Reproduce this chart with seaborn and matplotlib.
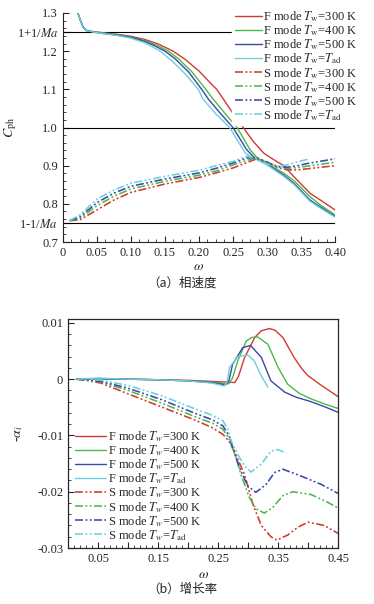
import matplotlib
matplotlib.use('Agg')
import matplotlib.pyplot as plt
from matplotlib.ticker import MultipleLocator
import seaborn as sns

# ---- panel (a): phase speed ----
om_F300_a = [0.022, 0.026, 0.03, 0.035, 0.045, 0.06, 0.08, 0.10, 0.12, 0.14, 0.162, 0.18, 0.20, 0.215, 0.226, 0.236, 0.25, 0.265, 0.28, 0.295, 0.314, 0.325, 0.339, 0.363, 0.38, 0.40]
c_F300 = [1.30, 1.28, 1.262, 1.254, 1.251, 1.248, 1.244, 1.239, 1.231, 1.219, 1.20, 1.178, 1.148, 1.12, 1.10, 1.074, 1.037, 1.0, 0.963, 0.933, 0.911, 0.90, 0.872, 0.828, 0.808, 0.784]
om_F400_a = [0.022, 0.026, 0.03, 0.035, 0.045, 0.06, 0.08, 0.10, 0.12, 0.14, 0.155, 0.17, 0.19, 0.21, 0.221, 0.24, 0.256, 0.275, 0.287, 0.30, 0.324, 0.34, 0.363, 0.38, 0.40]
c_F400 = [1.30, 1.28, 1.262, 1.254, 1.251, 1.247, 1.243, 1.237, 1.228, 1.214, 1.20, 1.18, 1.145, 1.10, 1.074, 1.033, 1.0, 0.942, 0.918, 0.905, 0.881, 0.86, 0.819, 0.795, 0.771]
om_F500_a = [0.022, 0.026, 0.03, 0.035, 0.045, 0.06, 0.08, 0.10, 0.12, 0.135, 0.15, 0.165, 0.185, 0.204, 0.214, 0.23, 0.25, 0.27, 0.282, 0.30, 0.324, 0.34, 0.363, 0.38, 0.40]
c_F500 = [1.30, 1.28, 1.262, 1.254, 1.25, 1.246, 1.242, 1.236, 1.226, 1.214, 1.20, 1.18, 1.145, 1.10, 1.074, 1.04, 1.0, 0.942, 0.92, 0.904, 0.876, 0.853, 0.81, 0.79, 0.767]
om_Fad_a = [0.022, 0.026, 0.03, 0.035, 0.045, 0.06, 0.08, 0.10, 0.12, 0.13, 0.143, 0.16, 0.18, 0.199, 0.206, 0.225, 0.245, 0.268, 0.28, 0.30, 0.324, 0.34, 0.363, 0.38, 0.40]
c_Fad = [1.30, 1.28, 1.262, 1.254, 1.25, 1.246, 1.241, 1.234, 1.222, 1.213, 1.20, 1.175, 1.14, 1.10, 1.074, 1.035, 1.0, 0.933, 0.92, 0.902, 0.873, 0.85, 0.807, 0.787, 0.765]

om_S_a = [0.01, 0.025, 0.05, 0.075, 0.10, 0.15, 0.20, 0.225, 0.25, 0.27, 0.285, 0.30, 0.315, 0.33, 0.345, 0.36, 0.38, 0.40]
c_S300 = [0.756, 0.758, 0.784, 0.81, 0.83, 0.852, 0.869, 0.881, 0.894, 0.908, 0.918, 0.91, 0.895, 0.889, 0.889, 0.892, 0.896, 0.90]
c_S400 = [0.756, 0.762, 0.795, 0.82, 0.839, 0.859, 0.875, 0.886, 0.902, 0.914, 0.92, 0.91, 0.897, 0.893, 0.895, 0.899, 0.904, 0.909]
c_S500 = [0.756, 0.766, 0.803, 0.828, 0.846, 0.865, 0.881, 0.893, 0.907, 0.92, 0.921, 0.908, 0.898, 0.896, 0.90, 0.906, 0.912, 0.918]
om_Sad_a = [0.01, 0.025, 0.05, 0.075, 0.10, 0.15, 0.20, 0.225, 0.25, 0.27, 0.285, 0.30, 0.315, 0.33, 0.345, 0.36]
c_Sad = [0.756, 0.771, 0.812, 0.836, 0.854, 0.872, 0.888, 0.90, 0.911, 0.925, 0.918, 0.905, 0.898, 0.902, 0.91, 0.917]

# ---- panel (b): growth rate ----
om_F300_b = [0.014, 0.05, 0.10, 0.15, 0.20, 0.24, 0.262, 0.278, 0.284, 0.294, 0.311, 0.322, 0.3355, 0.345, 0.358, 0.377, 0.39, 0.40, 0.422, 0.45]
a_F300 = [0.0, 0.0001, 0.0, -0.0001, -0.0002, -0.0004, -0.0005, -0.0006, 0.0005, 0.0038, 0.0074, 0.0086, 0.0090, 0.0087, 0.0074, 0.0038, 0.0018, 0.0006, -0.0011, -0.0031]
om_F400_b = [0.014, 0.05, 0.10, 0.15, 0.20, 0.24, 0.262, 0.268, 0.274, 0.283, 0.297, 0.306, 0.316, 0.333, 0.35, 0.366, 0.385, 0.405, 0.43, 0.45]
a_F400 = [0.0, 0.0001, 0.0, -0.0001, -0.0003, -0.0005, -0.0008, -0.0008, 0.0002, 0.0033, 0.0068, 0.0074, 0.0075, 0.0062, 0.0021, -0.0009, -0.0025, -0.0035, -0.0045, -0.0052]
om_F500_b = [0.014, 0.05, 0.10, 0.15, 0.20, 0.24, 0.262, 0.268, 0.274, 0.291, 0.304, 0.322, 0.338, 0.361, 0.38, 0.405, 0.43, 0.45]
a_F500 = [0.0, 0.0001, 0.0, -0.0001, -0.0003, -0.0006, -0.0010, -0.0003, 0.0026, 0.0056, 0.0060, 0.0039, -0.0003, -0.0023, -0.0032, -0.0040, -0.0050, -0.0059]
om_Fad_b = [0.014, 0.05, 0.10, 0.15, 0.20, 0.24, 0.26, 0.265, 0.269, 0.283, 0.2995, 0.31, 0.322, 0.333]
a_Fad = [0.0, 0.0002, 0.0, -0.0001, -0.0003, -0.0007, -0.0012, -0.0005, 0.0021, 0.0040, 0.0043, 0.0033, 0.0006, -0.0014]

om_S300_b = [0.014, 0.03, 0.055, 0.10, 0.155, 0.21, 0.24, 0.258, 0.268, 0.277, 0.294, 0.308, 0.322, 0.338, 0.348, 0.366, 0.383, 0.40, 0.427, 0.45]
a_S300 = [0.0, -0.0002, -0.0007, -0.0026, -0.0049, -0.0072, -0.0086, -0.0098, -0.0110, -0.0128, -0.0169, -0.0222, -0.0260, -0.0280, -0.0286, -0.0277, -0.0263, -0.0254, -0.0260, -0.0274]
om_S400_b = [0.014, 0.03, 0.055, 0.10, 0.155, 0.21, 0.24, 0.258, 0.268, 0.28, 0.288, 0.302, 0.313, 0.327, 0.341, 0.358, 0.3745, 0.405, 0.433, 0.45]
a_S400 = [0.0, -0.0001, -0.0005, -0.0020, -0.0042, -0.0066, -0.0078, -0.0089, -0.0105, -0.0140, -0.0169, -0.0210, -0.0230, -0.0238, -0.0228, -0.0207, -0.0200, -0.0205, -0.0219, -0.0229]
om_S500_b = [0.014, 0.03, 0.055, 0.10, 0.155, 0.21, 0.24, 0.258, 0.268, 0.28, 0.288, 0.2995, 0.313, 0.33, 0.344, 0.358, 0.388, 0.422, 0.45]
a_S500 = [0.0, -0.0001, -0.0004, -0.0016, -0.0036, -0.0060, -0.0072, -0.0083, -0.0100, -0.0140, -0.0163, -0.0190, -0.0201, -0.0187, -0.0166, -0.0160, -0.0172, -0.0187, -0.0203]
om_Sad_b = [0.014, 0.03, 0.055, 0.10, 0.155, 0.21, 0.24, 0.258, 0.266, 0.272, 0.283, 0.294, 0.305, 0.322, 0.338, 0.3495, 0.363]
a_Sad = [0.0, 0.0001, -0.0002, -0.0011, -0.0029, -0.0052, -0.0064, -0.0074, -0.0088, -0.0110, -0.0134, -0.0154, -0.0165, -0.0151, -0.0128, -0.0125, -0.0131]

temps = ['300 K', '400 K', '500 K', 'ad']
colors = ['#d03a32', '#4cb848', '#3a48a8', '#6ccfdc']
dashdotdot = (0, (5, 1.5, 1.2, 1.5, 1.2, 1.5))

sns.set_style('ticks')
plt.rcParams['font.family'] = ['Liberation Serif', 'DejaVu Serif']
plt.rcParams['mathtext.fontset'] = 'stix'
plt.rcParams['axes.unicode_minus'] = False
plt.rcParams['font.size'] = 9

fig = plt.figure(figsize=(3.74, 6.04), dpi=100)
ax1 = fig.add_axes([0.168, 0.5993, 0.728, 0.3792])
ax2 = fig.add_axes([0.182, 0.0927, 0.722, 0.3792])


def label(mode, t, sub):
    if t == 'ad':
        return mode + ' mode $T_{' + sub + '}$=$T_{\\rm ad}$'
    return mode + ' mode $T_{' + sub + '}$=' + t.replace(' ', '\u2009')


# panel (a)
F_a = [(om_F300_a, c_F300), (om_F400_a, c_F400), (om_F500_a, c_F500), (om_Fad_a, c_Fad)]
S_a = [(om_S_a, c_S300), (om_S_a, c_S400), (om_S_a, c_S500), (om_Sad_a, c_Sad)]
for (x, y), col, t in zip(F_a, colors, temps):
    sns.lineplot(x=x, y=y, ax=ax1, color=col, lw=1.0, label=label('F', t, '\\rm w'))
for (x, y), col, t in zip(S_a, colors, temps):
    sns.lineplot(x=x, y=y, ax=ax1, color=col, lw=1.15, linestyle=dashdotdot, label=label('S', t, '\\rm w'))

ax1.plot([0, 0.40], [1.25, 1.25], color='black', lw=0.8, zorder=1)
ax1.plot([0, 0.40], [1.0, 1.0], color='black', lw=0.8, zorder=1)
ax1.plot([0, 0.40], [0.75, 0.75], color='black', lw=0.8, zorder=1)
ax1.set_xlim(0, 0.40)
ax1.set_ylim(0.7, 1.3)
ax1.spines['top'].set_visible(False)
ax1.spines['right'].set_visible(False)
ax1.set_xticks([0, 0.05, 0.10, 0.15, 0.20, 0.25, 0.30, 0.35, 0.40])
ax1.set_xticklabels(['0', '0.05', '0.10', '0.15', '0.20', '0.25', '0.30', '0.35', '0.40'])
ax1.set_yticks([0.7, 0.75, 0.8, 0.9, 1.0, 1.1, 1.2, 1.25, 1.3])
ax1.set_yticklabels(['0.7', '1-1/$Ma$', '0.8', '0.9', '1.0', '1.1', '1.2', '1+1/$Ma$', '1.3'])
ax1.xaxis.set_minor_locator(MultipleLocator(0.0125))
ax1.yaxis.set_minor_locator(MultipleLocator(0.02))
ax1.tick_params(which='both', direction='in', labelsize=9)
ax1.tick_params(which='major', length=4)
ax1.tick_params(which='minor', length=2)
ax1.set_xlabel('$\\omega$', fontsize=10, labelpad=1)
ax1.set_ylabel('$C_{\\rm ph}$', fontsize=10)
ax1.yaxis.set_label_coords(-0.16, 0.5)
leg1 = ax1.legend(loc='upper left', bbox_to_anchor=(232 / 374, 1 - 7 / 604), bbox_transform=fig.transFigure,
                  frameon=True, fancybox=False, edgecolor='white', framealpha=1, borderaxespad=0,
                  borderpad=0.2, handlelength=2.2, handletextpad=0.1, labelspacing=-0.06, fontsize=9)
leg1.set_zorder(5)

# panel (b)
F_b = [(om_F300_b, a_F300), (om_F400_b, a_F400), (om_F500_b, a_F500), (om_Fad_b, a_Fad)]
S_b = [(om_S300_b, a_S300), (om_S400_b, a_S400), (om_S500_b, a_S500), (om_Sad_b, a_Sad)]
for (x, y), col, t in zip(F_b, colors, temps):
    sns.lineplot(x=x, y=y, ax=ax2, color=col, lw=1.0, label=label('F', t, 'w'))
for (x, y), col, t in zip(S_b, colors, temps):
    sns.lineplot(x=x, y=y, ax=ax2, color=col, lw=1.15, linestyle=dashdotdot, label=label('S', t, 'w'))

ax2.set_xlim(0, 0.45)
ax2.set_ylim(-0.03, 0.0107)
ax2.set_xticks([0.05, 0.10, 0.15, 0.20, 0.25, 0.30, 0.35, 0.40, 0.45],
               labels=['0.05', '', '0.15', '', '0.25', '', '0.35', '', '0.45'])
ax2.xaxis.set_minor_locator(MultipleLocator(0.01))
ax2.set_yticks([-0.03, -0.02, -0.01, 0, 0.01], labels=['-0.03', '-0.02', '-0.01', '0', '0.01'])
ax2.yaxis.set_minor_locator(MultipleLocator(0.002))
ax2.tick_params(which='both', direction='in', labelsize=9)
ax2.tick_params(which='major', length=4)
ax2.tick_params(which='minor', length=2)
for s in ax2.spines.values():
    s.set_linewidth(0.9)
ax2.set_xlabel('$\\omega$', fontsize=10, labelpad=2)
ax2.set_ylabel('-$\\alpha_i$', fontsize=10)
ax2.yaxis.set_label_coords(-0.16, 0.5)
ax2.legend(loc='upper left', bbox_to_anchor=(72 / 374, 1 - 427 / 604), bbox_transform=fig.transFigure,
           frameon=False, borderaxespad=0, borderpad=0.2, handlelength=2.5, handletextpad=0.15,
           labelspacing=-0.06, fontsize=9)

cjk = ['Noto Sans CJK SC', 'DejaVu Sans']
fig.text(182 / 374, 1 - 283 / 604, '（a）相速度', ha='center', va='center', fontsize=9, family=cjk)
fig.text(182 / 374, 1 - 589 / 604, '（b）增长率', ha='center', va='center', fontsize=9, family=cjk)

fig.savefig('out.png', dpi=100)
